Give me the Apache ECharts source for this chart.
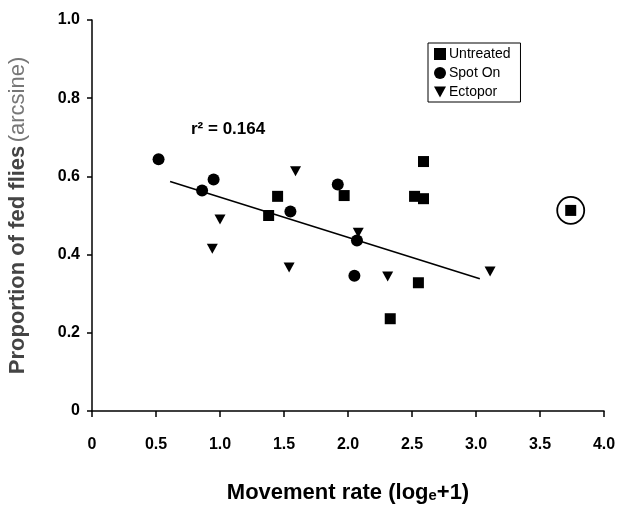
<!DOCTYPE html>
<html>
<head>
<meta charset="utf-8">
<script src="https://cdn.jsdelivr.net/npm/echarts@6/dist/echarts.min.js"></script>
<style>
  html, body { margin: 0; padding: 0; background: #fff; }
  #chart { width: 617px; height: 506px; }
</style>
</head>
<body>
<div id="chart"></div>
<script>
// data
const untreated = [[1.38, 0.500], [1.45, 0.549], [1.97, 0.551], [2.52, 0.549], [2.59, 0.543],
  [2.59, 0.638], [2.55, 0.328], [2.33, 0.236], [3.74, 0.513]]
const spotOn = [[0.52, 0.644], [0.86, 0.564], [0.95, 0.592], [1.55, 0.510], [1.92, 0.579],
  [2.07, 0.436], [2.05, 0.346]]
const ectopor = [[1.59, 0.613], [1.00, 0.490], [0.94, 0.415], [1.54, 0.367], [2.08, 0.456],
  [2.31, 0.344], [3.11, 0.357]]
const outlier = [[3.74, 0.513]]
const fitLine = [[0.61, 0.587], [3.03, 0.338]]
const rSquared = '0.164'

const tri = 'path://M0,0 L10,0 L5,9 Z'
const font = '"Liberation Sans", Arial, sans-serif'

const chart = echarts.init(document.getElementById('chart'))

function fmt(v) {
  return v === 0 ? '0' : v.toFixed(1)
}

const option = {
  animation: false,
  textStyle: { fontFamily: font },
  grid: { left: 92, top: 20, right: 13, bottom: 95, outerBoundsMode: 'none', containLabel: false },
  legend: {
    orient: 'vertical',
    left: 428,
    top: 43,
    borderColor: '#000',
    borderWidth: 1,
    borderRadius: 0,
    padding: [4, 10, 3, 6],
    itemGap: 5,
    itemWidth: 12,
    itemHeight: 12,
    textStyle: { fontSize: 14, color: '#000', fontFamily: font, padding: [0, 0, 0, -2] },
    data: [
      { name: 'Untreated', icon: 'rect' },
      { name: 'Spot On', icon: 'circle' },
      { name: 'Ectopor', icon: tri }
    ]
  },
  xAxis: {
    type: 'value',
    min: 0,
    max: 4,
    interval: 0.5,
    name: 'Movement rate (logₑ+1)',
    nameLocation: 'middle',
    nameGap: 71,
    nameTextStyle: { fontSize: 22, fontWeight: 'bold', color: '#000', fontFamily: font },
    axisLine: { lineStyle: { color: '#000', width: 1.5 } },
    axisTick: { length: 6, lineStyle: { color: '#000', width: 1.5 } },
    axisLabel: { formatter: fmt, margin: 26, fontSize: 16, fontWeight: 'bold', color: '#000' },
    splitLine: { show: false }
  },
  yAxis: {
    type: 'value',
    min: 0,
    max: 1,
    interval: 0.2,
    name: '{b|Proportion of fed flies} {n|(arcsine)}',
    nameLocation: 'middle',
    nameGap: 63,
    nameTextStyle: {
      rich: {
        b: { fontSize: 22, fontWeight: 'bold', color: '#444', fontFamily: font },
        n: { fontSize: 22, color: '#777', fontFamily: font }
      }
    },
    axisLine: { lineStyle: { color: '#000', width: 1.5 } },
    axisTick: { length: 5, lineStyle: { color: '#000', width: 1.5 } },
    axisLabel: { formatter: fmt, margin: 12, fontSize: 16, fontWeight: 'bold', color: '#000' },
    splitLine: { show: false }
  },
  graphic: [{
    type: 'text',
    left: 191,
    top: 121,
    style: {
      text: 'r² = ' + rSquared,
      font: 'bold 17px ' + font,
      fill: '#000'
    }
  }],
  series: [
    {
      name: 'fit',
      type: 'line',
      data: fitLine,
      symbol: 'none',
      lineStyle: { color: '#000', width: 1.6 },
      z: 1
    },
    {
      name: 'Untreated',
      type: 'scatter',
      data: untreated,
      symbol: 'rect',
      symbolSize: 11,
      itemStyle: { color: '#000', opacity: 1 }
    },
    {
      name: 'Spot On',
      type: 'scatter',
      data: spotOn,
      symbol: 'circle',
      symbolSize: 12,
      itemStyle: { color: '#000', opacity: 1 }
    },
    {
      name: 'Ectopor',
      type: 'scatter',
      data: ectopor,
      symbol: tri,
      symbolSize: [11, 10],
      itemStyle: { color: '#000', opacity: 1 }
    },
    {
      name: 'outlier',
      type: 'scatter',
      data: outlier,
      symbol: 'circle',
      symbolSize: 27,
      itemStyle: { color: 'none', borderColor: '#000', borderWidth: 1.8, opacity: 1 },
      z: 1
    }
  ]
}

chart.setOption(option)
window.addEventListener('resize', () => chart.resize())
</script>
</body>
</html>
